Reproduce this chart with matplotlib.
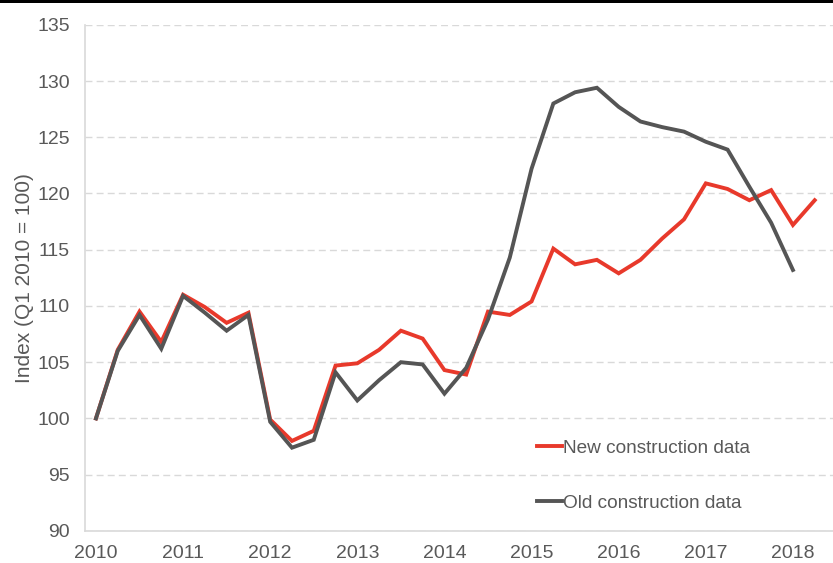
import numpy as np
import matplotlib.pyplot as plt
from matplotlib.patches import Rectangle

# Quarterly index, Q1 2010 = 100
start_year = 2010
new_construction = [
    100.0, 106.1, 109.5, 106.8, 111.0, 109.9, 108.5, 109.4,
    99.9, 98.0, 98.9, 104.7, 104.9, 106.1, 107.8, 107.1,
    104.3, 103.9, 109.5, 109.2, 110.4, 115.1, 113.7, 114.1,
    112.9, 114.1, 116.0, 117.7, 120.9, 120.4, 119.4, 120.3,
    117.2, 119.4,
]
old_construction = [
    100.0, 106.0, 109.2, 106.2, 110.9, 109.4, 107.8, 109.2,
    99.7, 97.4, 98.1, 104.1, 101.6, 103.4, 105.0, 104.8,
    102.2, 104.5, 108.8, 114.3, 122.2, 128.0, 129.0, 129.4,
    127.7, 126.4, 125.9, 125.5, 124.6, 123.9, 120.6, 117.4,
    113.2,
]
year_ticks = list(range(2010, 2019))
y_ticks = list(range(90, 136, 5))

plt.rcParams['font.family'] = ['Liberation Sans', 'DejaVu Sans']

red = '#e8392b'
dark = '#555555'
text_col = '#595959'

x_new = start_year + np.arange(len(new_construction)) * 0.25
x_old = start_year + np.arange(len(old_construction)) * 0.25

fig = plt.figure(figsize=(8.33, 5.63), dpi=100)
ax = fig.add_axes([0.102, 0.057, 0.898, 0.899])

ax.plot(x_new, new_construction, color=red, lw=2.8, label='New construction data',
        solid_joinstyle='miter')
ax.plot(x_old, old_construction, color=dark, lw=2.8, label='Old construction data',
        solid_joinstyle='miter')

ax.set_xlim(2009.874, 2018.46)
ax.set_ylim(90, 135)
ax.set_xticks(year_ticks)
ax.set_yticks(y_ticks)
ax.tick_params(length=0, labelsize=14, colors=text_col)
ax.tick_params(axis='y', pad=11)
ax.tick_params(axis='x', pad=10)
ax.set_ylabel('Index (Q1 2010 = 100)', fontsize=15, color=text_col, labelpad=2)

ax.grid(axis='y', color='#d9d9d9', linestyle=(0, (5, 3)), lw=1)
ax.set_axisbelow(True)
for side in ['top', 'right']:
    ax.spines[side].set_visible(False)
for side in ['left', 'bottom']:
    ax.spines[side].set_color('#d9d9d9')
    ax.spines[side].set_linewidth(1.2)

leg = ax.legend(loc='center left', bbox_to_anchor=(0.604, 0.109), frameon=False,
                fontsize=13.7, handlelength=1.3, handletextpad=0.1,
                labelspacing=2.0, borderpad=0, borderaxespad=0)
for t in leg.get_texts():
    t.set_color(text_col)

# black strip along the top edge
fig.add_artist(Rectangle((0, 1 - 3 / 563), 1, 3 / 563, transform=fig.transFigure,
                         color='black', lw=0))

fig.savefig('out.png', dpi=100)
